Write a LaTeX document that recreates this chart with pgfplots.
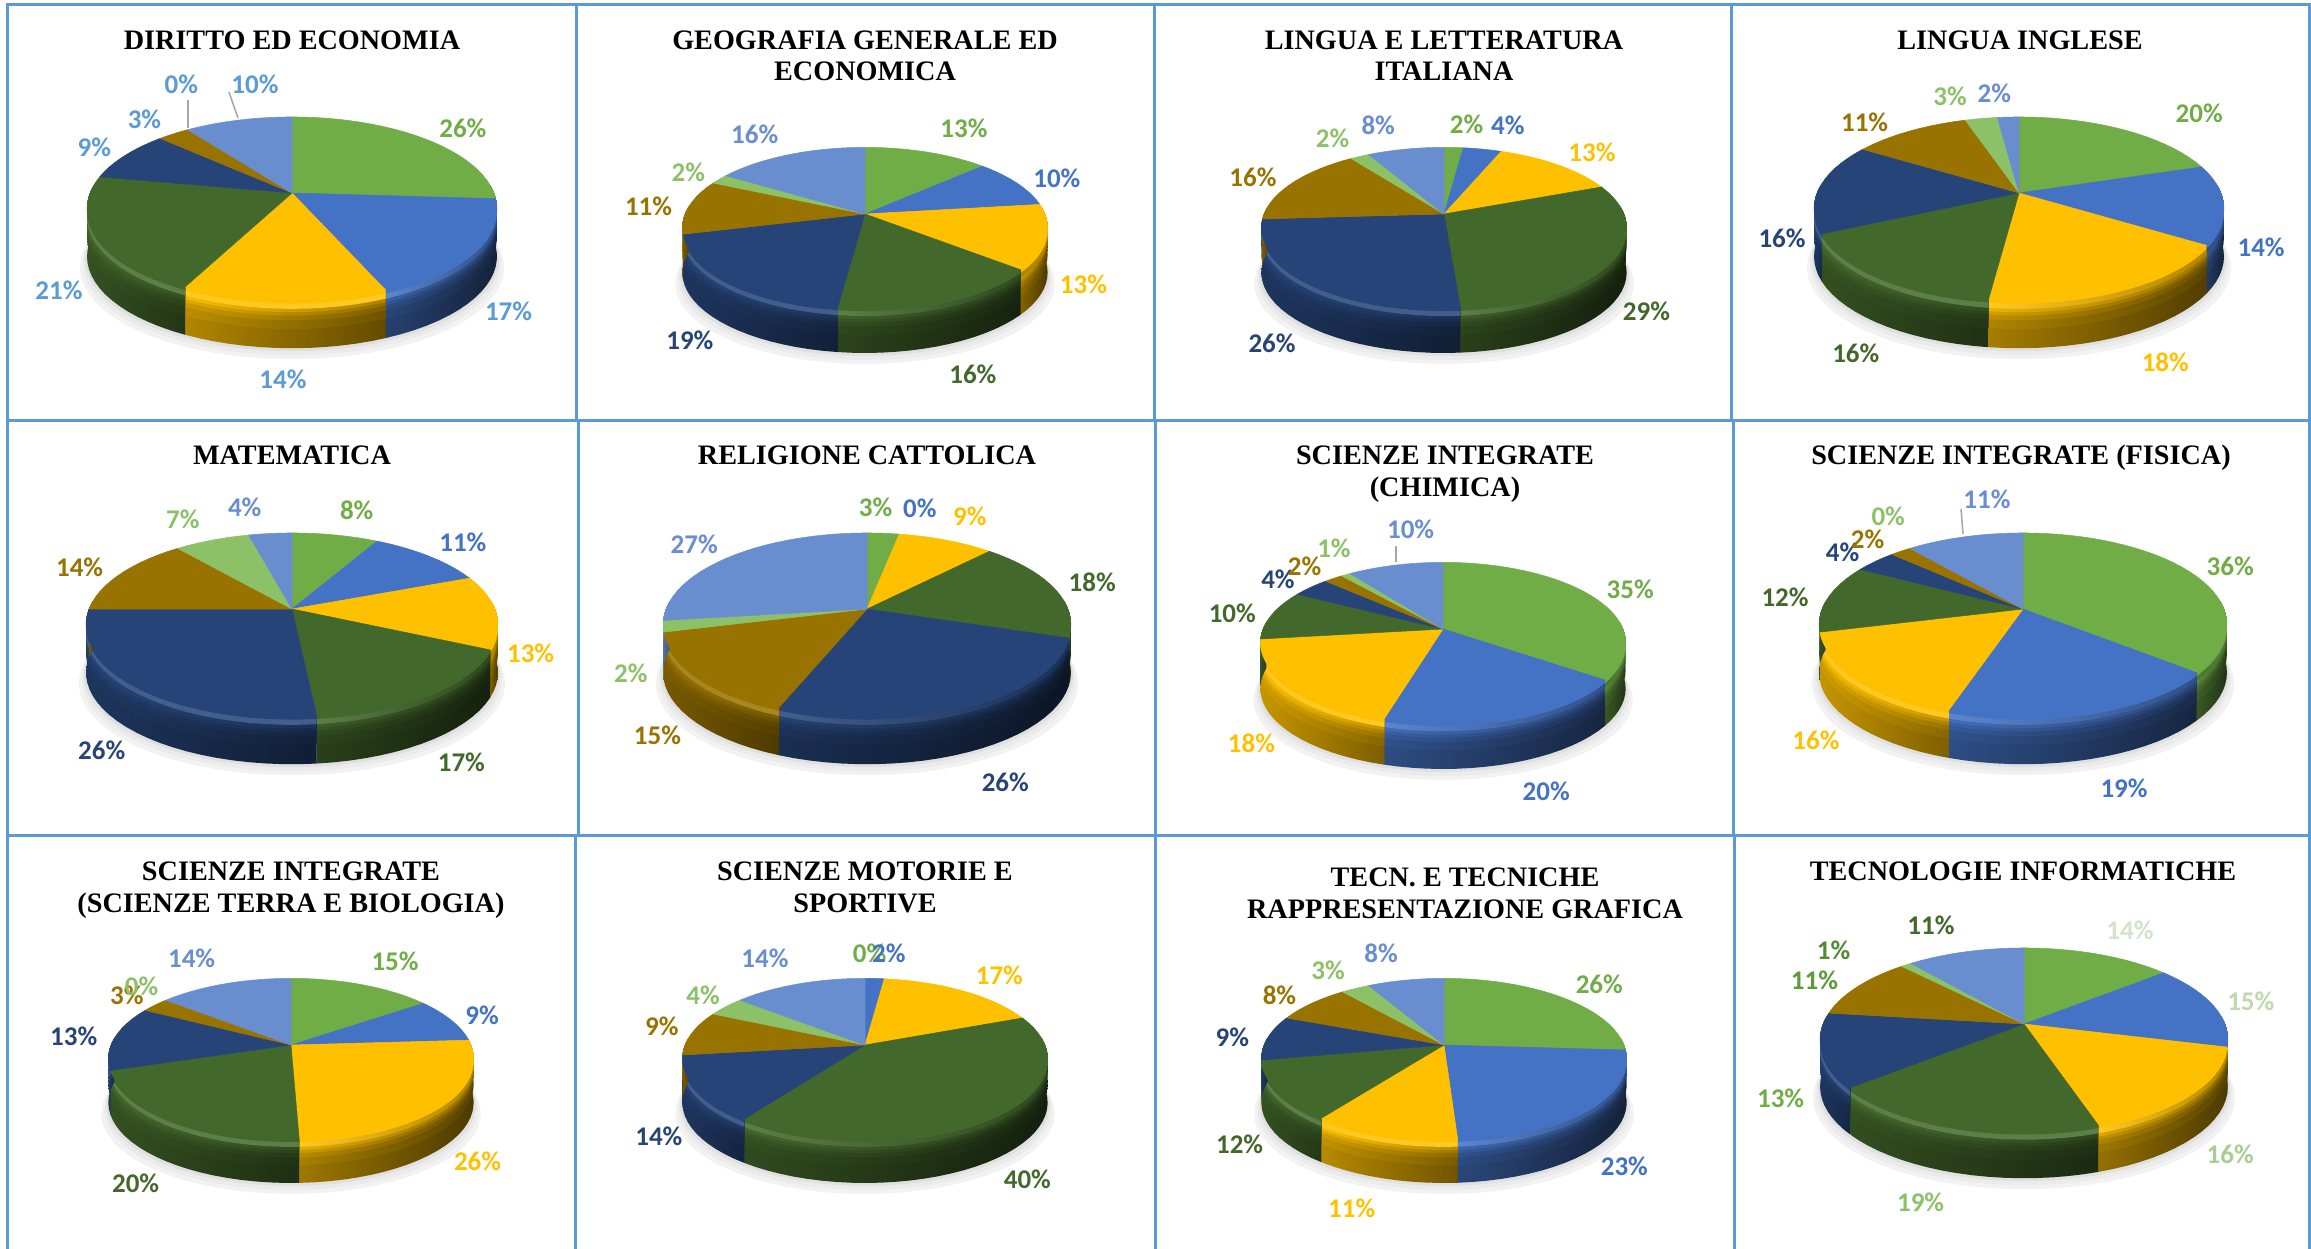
\documentclass[border=0pt]{standalone}
\usepackage{fontspec}
\usepackage{pgfplots}
\pgfplotsset{compat=1.18}
\newfontfamily\lblfont{Carlito}
\newfontfamily\ttlfont{Liberation Serif}
\def\pf{\lblfont\bfseries\fontsize{27}{27}\selectfont}
\def\tf{\ttlfont\bfseries\fontsize{28.2}{30}\selectfont}
\definecolor{pc1}{HTML}{70AD47}
\definecolor{pc2}{HTML}{4472C4}
\definecolor{pc3}{HTML}{FFC000}
\definecolor{pc4}{HTML}{43682B}
\definecolor{pc5}{HTML}{264478}
\definecolor{pc6}{HTML}{997300}
\definecolor{pc7}{HTML}{8CC168}
\definecolor{pc8}{HTML}{698ED0}
\definecolor{lb}{HTML}{5B9BD5}
\definecolor{pa}{HTML}{D3E2C8}
\definecolor{pb}{HTML}{BFD8AE}
\definecolor{pd}{HTML}{A9CD92}
\definecolor{pe}{HTML}{8CC168}
\definecolor{pf1}{HTML}{70AD47}
\definecolor{pg}{HTML}{5E9A38}
\definecolor{ph}{HTML}{548A30}
\def\kk{0.17}
\gdef\coords{}
\newcommand\addarc[3]{%
  \pgfmathtruncatemacro\nn{max(1,ceil(abs(#2-#1)/4))}%
  \pgfmathsetmacro\st{(#2-#1)/\nn}%
  \foreach \j in {0,...,\nn}{%
    \pgfmathsetmacro\tt{#1+\j*\st}%
    \pgfmathsetmacro\den{1+\kk*cos(\tt)}%
    \pgfmathsetmacro\px{\cx+\aa*sin(\tt)/\den}%
    \pgfmathsetmacro\py{\cy-\bb*cos(\tt)/\den+#3}%
    \xdef\coords{\coords (\px,\py)}%
  }%
}
\newcommand\Fval[2]{\pgfmathsetmacro#1{53-15*sin(#2)}}
% band of the side of a wedge, down to the fraction #1 of the depth; brightness +#2 left and right
\newcommand\Band[2]{%
  \pgfmathsetmacro\oo{#1*\dd}%
  \pgfmathsetmacro\fl{min(100,\fL+#2)}\pgfmathsetmacro\fr{min(100,\fR+#2)}%
  \gdef\coords{}%
  \addarc{\tAc}{\tBc}{0}\addarc{\tBc}{\tAc}{\oo}%
  \edef\temp{\noexpand\addplot[draw=none,left color=pc\ii!\fl!black,right color=pc\ii!\fr!black] coordinates {\coords};}\temp
}
\newcommand\rimx[1]{\ifdim#1pt<135pt pc\ii!70!black\else pc\ii!86!white\fi}
\newcommand\Rim[1]{%
  \pgfmathsetmacro\oo{#1*\dd}%
  \gdef\coords{}%
  \addarc{\tAc}{\tBc}{0}\addarc{\tBc}{\tAc}{\oo}%
  \edef\temp{\noexpand\addplot[draw=none,left color=\rimx{\tBc},right color=\rimx{\tAc}] coordinates {\coords};}\temp
}
\newcommand\Shadow[3]{%
  \gdef\coords{}%
  \begingroup\pgfmathsetmacro\aa{\aa+#2}\addarc{0}{360}{#1}\endgroup
  \edef\temp{\noexpand\addplot[draw=none,fill=#3] coordinates {\coords};}\temp
}
\newcommand\Pie[6]{%
  \def\cx{#1}\def\cy{#2}\def\aa{#3}\def\bb{#4}\def\dd{#5}\def\vals{#6}%
  \pgfmathsetmacro\sa{#5+11}\Shadow{\sa}{7}{black!5}%
  \pgfmathsetmacro\sa{#5+7}\Shadow{\sa}{4}{black!8}%
  \pgfmathsetmacro\sa{#5+3}\Shadow{\sa}{2}{black!12}%
  \gdef\acc{0}%
  \foreach \v [count=\ii] in \vals {%
    \pgfmathsetmacro\tA{\acc*3.6}%
    \pgfmathsetmacro\acn{\acc+\v}\xdef\acc{\acn}%
    \pgfmathsetmacro\tB{\acc*3.6}%
    \pgfmathsetmacro\tAc{max(\tA,85)}%
    \pgfmathsetmacro\tBc{min(\tB,275)}%
    \pgfmathsetmacro\tBm{\tBc-0.3}%
    \ifdim\tBm pt>\tAc pt\relax
      \Fval\fa{\tAc}\Fval\fb{\tBc}%
      \pgfmathsetmacro\fL{\fb+10}\pgfmathsetmacro\fR{\fa-8}%
      \Band{1}{0}\Band{0.6}{4}\Band{0.42}{10}\Band{0.32}{18}\Band{0.25}{28}%
      \Rim{0.18}\Band{0.07}{100}%
    \fi
  }%
  \gdef\acc{0}%
  \foreach \v [count=\ii] in \vals {%
    \pgfmathsetmacro\tA{\acc*3.6}%
    \pgfmathsetmacro\acn{\acc+\v}\xdef\acc{\acn}%
    \pgfmathsetmacro\tB{\acc*3.6}%
    \pgfmathsetmacro\tBm{\tB-0.3}%
    \ifdim\tBm pt>\tA pt\relax
      \gdef\coords{}%
      \xdef\coords{(\cx,\cy)}%
      \addarc{\tA}{\tB}{0}%
      \xdef\coords{\coords (\cx,\cy)}%
      \edef\temp{\noexpand\addplot[draw=pc\ii,line width=0.5pt,line join=round,fill=pc\ii] coordinates {\coords};}\temp
    \fi
  }%
}
\newcommand\Lab[4]{%
  \pgfmathsetmacro\lx{#1*1.474}\pgfmathsetmacro\ly{#2*1.474}%
  \edef\temp{\noexpand\node[text=#3,font=\noexpand\pf,inner sep=0pt] at (axis cs:\lx,\ly) {#4\noexpand\%};}\temp
}
\newcommand\Ttl[3]{\pgfmathsetmacro\ty{#2+10}\edef\temp{\noexpand\node[font=\noexpand\tf,inner sep=0pt,anchor=base] at (axis cs:#1,\ty) {#3};}\temp}
\newcommand\Fr[4]{\addplot[lb,line width=3pt] coordinates {(#1,#2) (#3,#4)};}
\newcommand\Leader[4]{\addplot[color=black!35,line width=1.5pt] coordinates {(#1,#2) (#3,#4)};}
\begin{document}
\begin{tikzpicture}
\useasboundingbox (0,0) rectangle (2311pt,1249pt);
\begin{axis}[
  width=2311pt,height=1249pt,scale only axis,
  xmin=0,xmax=2311,ymin=0,ymax=1249,y dir=reverse,
  hide axis,no markers,clip=true,
  anchor=south west,at={(0,0)}]
% frame
\Fr{6}{5}{2311}{5}\Fr{6}{420}{2311}{420}\Fr{6}{835}{2311}{835}
\Fr{7.5}{5}{7.5}{420}\Fr{576}{5}{576}{420}\Fr{1154}{5}{1154}{420}\Fr{1731.5}{5}{1731.5}{420}
\Fr{7.5}{420}{7.5}{835}\Fr{578}{420}{578}{835}\Fr{1155}{420}{1155}{835}\Fr{1733}{420}{1733}{835}
\Fr{7}{835}{7}{1249}\Fr{575.5}{835}{575.5}{1249}\Fr{1155.5}{835}{1155.5}{1249}\Fr{1734}{835}{1734}{1249}
\Fr{2309.5}{5}{2309.5}{1249}
% pies
\Pie{292}{193}{202}{89}{48}{26,17.6,13.8,20.6,9,3,0,10}
\Pie{865}{214}{180}{78}{45}{13,10,13,16,19,11,2,16}
\Pie{1444}{214}{180}{78}{45}{2,4,13,29.8,25.2,16,2,8}
\Pie{2019}{193}{202}{89}{48}{20,14,18,16,16,11,3,2}
\Pie{292}{609}{203}{89}{48}{8,11,13,16.4,26.6,14,7,4}
\Pie{867}{609}{201}{89}{48}{3,0,9,18,26,15,2,27}
\Pie{1443}{629}{180}{78}{46}{35,19.4,18.6,10,4,2,1,10}
\Pie{2023}{609}{201}{89}{48}{36,19,16,12,4,2,0,11}
\Pie{291}{1045}{180}{78}{44}{15,9,25.4,20.6,13,3,0,14}
\Pie{865}{1045}{180}{78}{44}{0,2,17,40.8,13.2,9,4,14}
\Pie{1444}{1045}{180}{78}{44}{26,23,11,12,9,8,3,8}
\Pie{2024}{1024}{201}{89}{47}{14,15,16,19,13,11,1,11}
% leaders
\Leader{188}{100}{188}{128}\Leader{229}{92}{238}{118}
\Leader{1396}{546}{1396}{562}\Leader{1961}{509}{1963}{534}
% titles
\Ttl{292}{40}{DIRITTO ED ECONOMIA}
\Ttl{865}{40}{GEOGRAFIA GENERALE ED}\Ttl{865}{71}{ECONOMICA}
\Ttl{1444}{40}{LINGUA E LETTERATURA}\Ttl{1444}{71}{ITALIANA}
\Ttl{2020}{40}{LINGUA INGLESE}
\Ttl{292}{454}{MATEMATICA}
\Ttl{867}{454}{RELIGIONE CATTOLICA}
\Ttl{1445}{454}{SCIENZE INTEGRATE}\Ttl{1445}{486}{(CHIMICA)}
\Ttl{2021}{454}{SCIENZE INTEGRATE (FISICA)}
\Ttl{291}{870}{SCIENZE INTEGRATE}\Ttl{291}{902}{(SCIENZE TERRA E BIOLOGIA)}
\Ttl{865}{870}{SCIENZE MOTORIE E}\Ttl{865}{902}{SPORTIVE}
\Ttl{1465}{876}{TECN. E TECNICHE}\Ttl{1465}{908}{RAPPRESENTAZIONE GRAFICA}
\Ttl{2023}{870}{TECNOLOGIE INFORMATICHE}
% labels
\Lab{314}{87}{pc1}{26}\Lab{345}{211}{lb}{17}\Lab{192}{257}{lb}{14}\Lab{40}{197}{lb}{21}\Lab{64}{100}{lb}{9}\Lab{98}{81}{lb}{3}\Lab{123}{57}{lb}{0}\Lab{173}{57}{lb}{10}
\Lab{654}{87}{pc1}{13}\Lab{717}{121}{pc2}{10}\Lab{735}{193}{pc3}{13}\Lab{660}{254}{pc4}{16}\Lab{468}{231}{pc5}{19}\Lab{440}{140}{pc6}{11}\Lab{467}{117}{pc7}{2}\Lab{512}{91}{pc8}{16}
\Lab{995}{84}{pc1}{2}\Lab{1023}{85}{pc2}{4}\Lab{1080}{103}{pc3}{13}\Lab{1117}{211}{pc4}{29}\Lab{863}{233}{pc5}{26}\Lab{850}{120}{pc6}{16}\Lab{904}{94}{pc7}{2}\Lab{935}{85}{pc8}{8}
\Lab{1492}{77}{pc1}{20}\Lab{1534}{168}{pc2}{14}\Lab{1469}{246}{pc3}{18}\Lab{1259}{240}{pc4}{16}\Lab{1209}{162}{pc5}{16}\Lab{1265}{83}{pc6}{11}\Lab{1323}{65}{pc7}{3}\Lab{1353}{63}{pc8}{2}
\Lab{242}{346}{pc1}{8}\Lab{314}{368}{pc2}{11}\Lab{360}{443}{pc3}{13}\Lab{313}{517}{pc4}{17}\Lab{69}{509}{pc5}{26}\Lab{54}{385}{pc6}{14}\Lab{124}{352}{pc7}{7}\Lab{166}{344}{pc8}{4}
\Lab{594}{344}{pc1}{3}\Lab{624}{345}{pc2}{0}\Lab{658}{350}{pc3}{9}\Lab{741}{395}{pc4}{18}\Lab{682}{531}{pc5}{26}\Lab{446}{499}{pc6}{15}\Lab{428}{457}{pc7}{2}\Lab{471}{369}{pc8}{27}
\Lab{1106}{400}{pc1}{35}\Lab{1049}{537}{pc2}{20}\Lab{849}{504}{pc3}{18}\Lab{836}{416}{pc4}{10}\Lab{867}{393}{pc5}{4}\Lab{885}{384}{pc6}{2}\Lab{905}{372}{pc7}{1}\Lab{957}{359}{pc8}{10}
\Lab{1513}{384}{pc1}{36}\Lab{1441}{535}{pc2}{19}\Lab{1232}{502}{pc3}{16}\Lab{1211}{405}{pc4}{12}\Lab{1250}{375}{pc5}{4}\Lab{1267}{366}{pc6}{2}\Lab{1281}{350}{pc7}{0}\Lab{1348}{339}{pc8}{11}
\Lab{268}{652}{pc1}{15}\Lab{327}{689}{pc2}{9}\Lab{324}{788}{pc3}{26}\Lab{92}{803}{pc4}{20}\Lab{50}{703}{pc5}{13}\Lab{86}{675}{pc6}{3}\Lab{96}{669}{pc7}{0}\Lab{130}{650}{pc8}{14}
\Lab{590}{647}{pc1}{0}\Lab{603}{647}{pc2}{2}\Lab{678}{662}{pc3}{17}\Lab{697}{800}{pc4}{40}\Lab{447}{771}{pc5}{14}\Lab{449}{696}{pc6}{9}\Lab{477}{675}{pc7}{4}\Lab{519}{650}{pc8}{14}
\Lab{1085}{668}{pc1}{26}\Lab{1102}{791}{pc2}{23}\Lab{917}{820}{pc3}{11}\Lab{841}{776}{pc4}{12}\Lab{836}{704}{pc5}{9}\Lab{868}{675}{pc6}{8}\Lab{901}{658}{pc7}{3}\Lab{937}{647}{pc8}{8}
\Lab{1445}{631}{pa}{14}\Lab{1527}{679}{pb}{15}\Lab{1513}{783}{pd}{16}\Lab{1303}{816}{pe}{19}\Lab{1208}{745}{pf1}{13}\Lab{1231}{665}{pg}{11}\Lab{1244}{645}{ph}{1}\Lab{1310}{628}{pc4}{11}
\end{axis}
\end{tikzpicture}
\end{document}
